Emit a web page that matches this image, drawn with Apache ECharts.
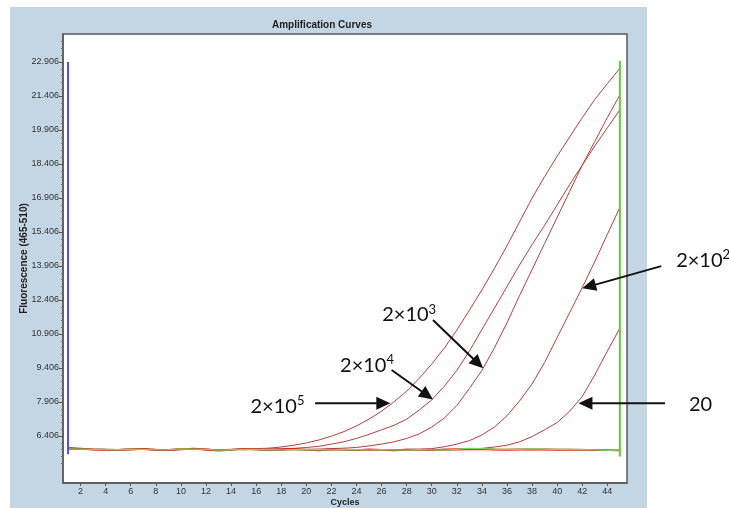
<!DOCTYPE html>
<html><head><meta charset="utf-8">
<script src="https://cdn.jsdelivr.net/npm/echarts@6/dist/echarts.min.js"></script>
<style>
html,body{margin:0;padding:0;background:#fff;}
#panel{position:absolute;left:10px;top:7px;width:637px;height:501px;background:#c4d6e4;}
#c{position:absolute;left:0;top:0;width:729px;height:508px;}
</style>
</head><body><div id="panel"></div><div id="c"></div>
<script>
const cycles = [1,2,3,4,5,6,7,8,9,10,11,12,13,14,15,16,17,18,19,20,21,22,23,24,25,26,27,28,29,30,31,32,33,34,35,36,37,38,39,40,41,42,43,44,45];
const curve2e5 = [5.86,5.84,5.83,5.82,5.81,5.84,5.83,5.80,5.81,5.85,5.84,5.83,5.80,5.82,5.84,5.85,5.87,5.92,6.00,6.10,6.23,6.40,6.60,6.85,7.15,7.50,7.92,8.38,8.95,9.58,10.28,11.08,11.95,12.85,13.80,14.80,15.85,16.90,17.85,18.75,19.60,20.45,21.25,21.95,22.63];
const curve2e4 = [5.83,5.82,5.80,5.81,5.79,5.82,5.81,5.79,5.80,5.83,5.82,5.80,5.79,5.81,5.80,5.82,5.84,5.85,5.86,5.90,5.95,6.05,6.15,6.30,6.48,6.68,6.88,7.15,7.55,8.00,8.60,9.30,10.15,11.10,12.05,13.00,13.95,14.85,15.70,16.60,17.50,18.35,19.20,20.00,20.79];
const curve2e3 = [5.85,5.83,5.81,5.80,5.80,5.83,5.82,5.80,5.79,5.84,5.83,5.81,5.78,5.80,5.83,5.82,5.80,5.81,5.83,5.82,5.83,5.85,5.87,5.90,5.97,6.05,6.15,6.30,6.50,6.80,7.20,7.75,8.50,9.30,10.30,11.40,12.60,13.75,14.90,16.05,17.20,18.35,19.40,20.45,21.45];
const curve2e2 = [5.84,5.82,5.81,5.79,5.80,5.82,5.83,5.79,5.80,5.82,5.84,5.80,5.79,5.81,5.82,5.80,5.79,5.80,5.82,5.81,5.80,5.80,5.81,5.79,5.80,5.81,5.80,5.82,5.83,5.85,5.93,6.05,6.20,6.45,6.80,7.30,7.95,8.70,9.65,10.75,11.85,12.95,14.10,15.30,16.49];
const curve20 = [5.82,5.81,5.80,5.80,5.79,5.81,5.82,5.79,5.78,5.81,5.83,5.80,5.78,5.80,5.82,5.81,5.79,5.80,5.81,5.80,5.79,5.80,5.81,5.80,5.79,5.80,5.81,5.79,5.80,5.81,5.82,5.83,5.84,5.86,5.92,6.00,6.15,6.38,6.68,7.00,7.50,8.15,9.10,10.15,11.16];
const baselineRed = [5.88,5.85,5.82,5.80,5.79,5.81,5.84,5.80,5.78,5.82,5.85,5.81,5.76,5.79,5.84,5.82,5.78,5.80,5.83,5.79,5.77,5.82,5.80,5.78,5.81,5.79,5.77,5.80,5.79,5.78,5.80,5.81,5.82,5.83,5.81,5.80,5.81,5.82,5.81,5.80,5.80,5.79,5.78,5.78,5.77];
const negControl = [5.84,5.83,5.82,5.81,5.80,5.83,5.82,5.79,5.80,5.84,5.83,5.82,5.78,5.80,5.82,5.81,5.80,5.79,5.80,5.81,5.80,5.79,5.81,5.80,5.79,5.80,5.79,5.78,5.80,5.79,5.78,5.82,5.86,5.85,5.83,5.81,5.82,5.84,5.83,5.81,5.82,5.81,5.79,5.77,5.78];
const blueCursor = [[1,5.6],[1,22.906]];
const greenCursor = [[45,5.5],[45,22.95]];
const yTickLabels = [6.406,7.906,9.406,10.906,12.406,13.906,15.406,16.906,18.406,19.906,21.406,22.906];
const xTickLabels = [2,4,6,8,10,12,14,16,18,20,22,24,26,28,30,32,34,36,38,40,42,44];
const annotations = [
  {text:'2×10', sup:'5', at:[17.7,7.77], from:[20.7,7.85], to:[26.7,7.85]},
  {text:'2×10', sup:'4', at:[24.84,9.58], from:[26.8,9.32], to:[30.1,8.02]},
  {text:'2×10', sup:'3', at:[28.2,11.79], from:[30.1,11.52], to:[34.1,9.39]},
  {text:'2×10', sup:'2', at:[51.64,14.21], from:[48.3,13.9], to:[42.0,12.92]},
  {text:'20', sup:'', at:[51.44,7.82], from:[48.6,7.85], to:[41.7,7.85]}
];

const minorY = [];
for (let i = 0; i < yTickLabels.length; i++) {
  for (let k = 1; k < 5; k++) {
    const v = yTickLabels[i] - 0.3 * k;
    if (v > 4.34) minorY.push(v);
  }
}
minorY.push(23.206, 23.506, 23.806);

const pairs = arr => cycles.map((c, i) => [c, arr[i]]);
const curveColor = '#b4413e';
const font = 'Liberation Sans';
const mkCurve = (name, arr) => ({
  name, type:'line', data: pairs(arr), symbol:'none', z:3,
  lineStyle:{color:curveColor, width:1}, silent:true
});

const chart = echarts.init(document.getElementById('c'), null, {renderer:'canvas'});
chart.setOption({
  animation:false,
  backgroundColor:'transparent',
  title:{text:'Amplification Curves', left:267, top:15,
    textStyle:{fontSize:10, fontWeight:'bold', color:'#222', fontFamily:font}},
  grid:{left:63, top:34, width:564, height:449, show:true, backgroundColor:'#fff',
    borderColor:'#5a5a5a', borderWidth:1.5, outerBoundsMode:'none', containLabel:false},
  xAxis:{type:'value', min:0.6, max:45.57,
    name:'Cycles', nameLocation:'middle', nameGap:15, nameMoveOverlap:false,
    nameTextStyle:{fontSize:9, fontWeight:'bold', color:'#222', fontFamily:font},
    axisLine:{show:true, lineStyle:{color:'#5a5a5a', width:1.5}},
    axisTick:{show:true, customValues:xTickLabels, length:3, lineStyle:{color:'#555'}},
    axisLabel:{customValues:xTickLabels, fontSize:9, color:'#333', margin:4, fontFamily:font},
    splitLine:{show:false}},
  yAxis:[{type:'value', min:4.333, max:24.141,
    name:'Fluorescence (465-510)', nameLocation:'middle', nameGap:34, nameMoveOverlap:false,
    nameTextStyle:{fontSize:10, fontWeight:'bold', color:'#222', fontFamily:font},
    axisLine:{show:true, lineStyle:{color:'#5a5a5a', width:1.5}},
    axisTick:{show:true, customValues:yTickLabels, length:4, lineStyle:{color:'#555'}},
    axisLabel:{customValues:yTickLabels, formatter:v=>v.toFixed(3), fontSize:9, color:'#333', margin:4, fontFamily:font},
    splitLine:{show:false}},
   {type:'value', min:4.333, max:24.141, position:'left',
    axisLine:{show:false}, axisLabel:{show:false}, splitLine:{show:false},
    axisTick:{show:true, customValues:minorY, length:2, lineStyle:{color:'#777'}}}],
  series:[
    mkCurve('2×10^5', curve2e5),
    mkCurve('2×10^4', curve2e4),
    mkCurve('2×10^3', curve2e3),
    mkCurve('2×10^2', curve2e2),
    mkCurve('20', curve20),
    {name:'red', type:'line', data:pairs(baselineRed), symbol:'none', z:4, lineStyle:{color:'#e01818', width:1.8}},
    {name:'ntc', type:'line', data:pairs(negControl), symbol:'none', z:5, lineStyle:{color:'#78d860', width:1.3}},
    {name:'blue', type:'line', data:blueCursor, symbol:'none', z:6, lineStyle:{color:'#5252e6', width:2}},
    {name:'green', type:'line', data:greenCursor, symbol:'none', z:6, lineStyle:{color:'#5ccc3c', width:2}}
  ]
});

function arrow(p0, p1) {
  const dx = p1[0]-p0[0], dy = p1[1]-p0[1], L = Math.hypot(dx, dy);
  const ux = dx/L, uy = dy/L, hl = 14, hw = 6.5;
  const bx = p1[0]-ux*hl, by = p1[1]-uy*hl;
  return [
    {type:'line', z:100, silent:true, shape:{x1:p0[0], y1:p0[1], x2:bx+ux*2, y2:by+uy*2}, style:{stroke:'#111', lineWidth:2}},
    {type:'polygon', z:100, silent:true, shape:{points:[[p1[0],p1[1]],[bx-uy*hw, by+ux*hw],[bx+uy*hw, by-ux*hw]]}, style:{fill:'#111'}}
  ];
}
const g = [];
annotations.forEach(a => {
  const pt = chart.convertToPixel({gridIndex:0}, a.at);
  const p0 = chart.convertToPixel({gridIndex:0}, a.from);
  const p1 = chart.convertToPixel({gridIndex:0}, a.to);
  g.push({type:'text', z:100, silent:true, x:pt[0], y:pt[1],
    style:{text: a.sup ? '{b|' + a.text + '}{s|' + a.sup + '}' : '{b|' + a.text + '}',
      align:'center', verticalAlign:'middle',
      rich:{b:{fontSize:20, fontFamily:'Lato, Open Sans, sans-serif', fill:'#111', lineHeight:22, verticalAlign:'bottom'},
            s:{fontSize:13, fontFamily:'Lato, Open Sans, sans-serif', fill:'#111', lineHeight:22, verticalAlign:'top'}}}});
  arrow(p0, p1).forEach(e => g.push(e));
});
chart.setOption({graphic:g});
</script>
</body></html>
